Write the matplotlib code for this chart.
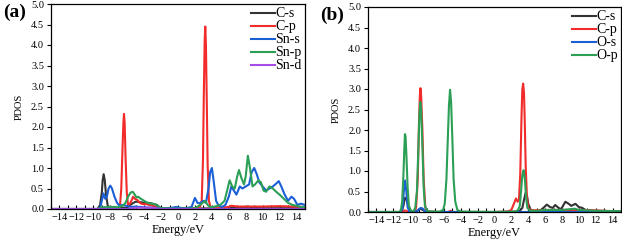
import matplotlib
matplotlib.use("Agg")
import matplotlib.pyplot as plt
from matplotlib.ticker import MultipleLocator, FormatStrFormatter

plt.rcParams['font.family'] = ['Liberation Serif', 'DejaVu Serif']

# ---- panel (a): C / Sn PDOS ----
cs_a_x = [-15, -9.5, -9.2, -9.0, -8.9, -8.78, -8.65, -8.5, -8.3, -8.0, -7.0, -6.0, -5.5, -5.0, -4.5, -4.0,
          -3.5, -3.0, -2.5, -2.2, -1.8, 0, 2, 5, 6, 8, 8.3, 8.6, 10, 15]
cs_a_y = [0, 0, 0.1, 0.4, 0.7, 0.85, 0.7, 0.35, 0.08, 0.02, 0.02, 0.03, 0.12, 0.18, 0.17, 0.15,
          0.15, 0.13, 0.1, 0.04, 0.01, 0.02, 0.01, 0.02, 0.03, 0.03, 0.06, 0.03, 0.02, 0.02]

cp_a_x = [-15, -9, -7.0, -6.85, -6.7, -6.55, -6.45, -6.38, -6.3, -6.2, -6.05, -5.9, -5.7, -5.5, -5.3, -5.1,
          -4.8, -4.5, -4.2, -3.8, -3.4, -3.0, -2.5, -2.0, 0, 2.0, 2.6, 2.8, 2.95, 3.05, 3.15, 3.22, 3.3, 3.4,
          3.5, 3.65, 3.85, 4.2, 5, 6, 6.3, 7, 10, 12, 15]
cp_a_y = [0, 0, 0.01, 0.08, 0.5, 1.5, 2.1, 2.32, 2.1, 1.3, 0.4, 0.1, 0.12, 0.2, 0.3, 0.25,
          0.22, 0.15, 0.12, 0.12, 0.1, 0.08, 0.05, 0.02, 0.01, 0.02, 0.05, 0.2, 1.2, 2.8, 4.1, 4.45, 4.0, 2.6,
          1.1, 0.2, 0.04, 0.02, 0.03, 0.05, 0.08, 0.06, 0.06, 0.07, 0.05]

sns_a_x = [-15, -9.5, -9.2, -9.0, -8.8, -8.6, -8.4, -8.2, -8.0, -7.8, -7.5, -7.2, -6.9, -6.5, -6.0, -5.5,
           -5.0, -4.5, -4.0, -3.0, -2.0, -1.0, -0.2, 0.5, 1.0, 1.6, 2.0, 2.3, 2.6, 3.0, 3.3, 3.6, 3.8, 4.0,
           4.2, 4.5, 4.8, 5.2, 5.6, 6.0, 6.3, 6.6, 6.9, 7.3, 7.6, 8.0, 8.4, 8.7, 9.0, 9.3, 9.6, 10.0, 10.4,
           10.8, 11.2, 11.6, 11.9, 12.2, 12.6, 13.0, 13.4, 13.7, 14.1, 14.5, 15]
sns_a_y = [0, 0, 0.03, 0.2, 0.38, 0.25, 0.3, 0.5, 0.57, 0.5, 0.3, 0.15, 0.08, 0.1, 0.07, 0.05,
           0.06, 0.05, 0.04, 0.03, 0.02, 0.02, 0.05, 0.02, 0.02, 0.05, 0.27, 0.15, 0.14, 0.2, 0.15, 0.5, 0.9, 1.0,
           0.7, 0.2, 0.08, 0.05, 0.1, 0.3, 0.55, 0.45, 0.35, 0.55, 0.5, 0.55, 0.6, 0.9, 1.0, 0.85, 0.65, 0.55, 0.45,
           0.5, 0.55, 0.62, 0.68, 0.55, 0.35, 0.2, 0.3, 0.25, 0.1, 0.13, 0.1]

snp_a_x = [-15, -9.5, -9, -8, -7, -6.5, -6.2, -5.9, -5.6, -5.35, -5.1, -4.9, -4.7, -4.4, -4.0, -3.6,
           -3.2, -2.8, -2.4, -2.0, -1, 0, 1, 2, 2.5, 2.9, 3.2, 3.5, 3.8, 4.2, 5.0, 5.5, 5.8, 6.1, 6.4, 6.7,
           7.0, 7.2, 7.5, 7.8, 8.0, 8.25, 8.5, 8.8, 9.1, 9.5, 9.8, 10.1, 10.4, 10.8, 11.2, 11.6, 12.0, 12.5,
           13.0, 13.5, 14.0, 14.5, 15]
snp_a_y = [0, 0, 0.04, 0.05, 0.05, 0.08, 0.15, 0.3, 0.4, 0.42, 0.35, 0.28, 0.3, 0.25, 0.2, 0.15,
           0.13, 0.12, 0.08, 0.02, 0.01, 0.01, 0.01, 0.02, 0.08, 0.15, 0.2, 0.1, 0.05, 0.05, 0.1, 0.2, 0.45, 0.7,
           0.55, 0.5, 0.8, 0.95, 0.75, 0.6, 0.8, 1.3, 1.0, 0.55, 0.6, 0.7, 0.65, 0.45, 0.42, 0.55, 0.5, 0.42,
           0.35, 0.25, 0.15, 0.1, 0.08, 0.05, 0.05]

snd_a_x = [-15, -6, -5, -3, -2, 15]
snd_a_y = [0, 0, 0.03, 0.03, 0, 0]

# ---- panel (b): C / O PDOS ----
cs_b_x = [-15, -11.2, -11.0, -10.8, -10.65, -10.5, -10.3, -10.1, -9.5, -9.1, -8.8, -8.5, -8.2, -7, 0,
          2.5, 3.0, 3.3, 3.5, 3.7, 3.85, 4.0, 4.3, 4.8, 5.3, 5.8, 6.2, 6.6, 6.9, 7.2, 7.6, 7.9, 8.4, 8.8,
          9.1, 9.6, 10.0, 10.4, 10.8, 11.5, 12, 15]
cs_b_y = [0, 0, 0.02, 0.15, 0.33, 0.35, 0.2, 0.03, 0.0, 0.04, 0.08, 0.05, 0.01, 0, 0,
          0.01, 0.03, 0.1, 0.3, 0.47, 0.4, 0.2, 0.05, 0.02, 0.02, 0.1, 0.18, 0.12, 0.1, 0.17, 0.1, 0.07, 0.25, 0.2,
          0.15, 0.2, 0.12, 0.1, 0.05, 0.03, 0.02, 0.02]

cp_b_x = [-15, -11, -10.6, -10.2, -9.5, -9.3, -9.1, -8.95, -8.85, -8.78, -8.7, -8.55, -8.4, -8.2, -8.0, -7,
          -5.5, -5.2, -5, 0, 1.5, 2.0, 2.3, 2.55, 2.75, 2.9, 3.05, 3.2, 3.3, 3.4, 3.5, 3.6, 3.7, 3.85, 4.0,
          4.3, 6, 8, 10, 12, 13, 15]
cp_b_y = [0, 0, 0.04, 0.0, 0.01, 0.1, 0.8, 2.2, 2.85, 3.02, 2.85, 2.0, 0.8, 0.1, 0.02, 0.0,
          0.0, 0.03, 0.0, 0.0, 0.01, 0.05, 0.2, 0.33, 0.25, 0.3, 0.9, 2.3, 3.0, 3.13, 2.9, 2.1, 1.1, 0.35, 0.1,
          0.04, 0.05, 0.05, 0.05, 0.04, 0.03, 0.0]

os_b_x = [-15, -11.1, -10.9, -10.75, -10.6, -10.45, -10.3, -10.1, -9.5, -9.1, -8.9, -8.7, -8.5, -8.3, -8.0, 15]
os_b_y = [0, 0, 0.1, 0.5, 0.77, 0.5, 0.12, 0.01, 0, 0.03, 0.08, 0.1, 0.08, 0.03, 0, 0]

op_b_x = [-15, -11.3, -11.1, -10.95, -10.8, -10.7, -10.62, -10.55, -10.45, -10.3, -10.15, -9.9, -9.6, -9.4,
          -9.2, -9.05, -8.9, -8.8, -8.7, -8.55, -8.4, -8.25, -8.0, -7.5, -6.5, -6.1, -5.9, -5.7, -5.55, -5.4,
          -5.27, -5.15, -5.0, -4.85, -4.65, -4.4, -4.0, 0, 2.5, 2.8, 3.0, 3.15, 3.3, 3.45, 3.6, 3.75, 3.9, 4.2,
          5, 6, 8, 9.5, 10, 12, 15]
op_b_y = [0, 0, 0.05, 0.25, 0.9, 1.5, 1.9, 1.85, 1.4, 0.6, 0.15, 0.03, 0.02, 0.1,
          0.5, 1.4, 2.4, 2.68, 2.5, 1.6, 0.6, 0.15, 0.03, 0.01, 0.01, 0.05, 0.2, 0.8, 1.7, 2.6,
          2.98, 2.7, 1.8, 0.8, 0.25, 0.05, 0.01, 0, 0.01, 0.05, 0.15, 0.5, 0.9, 1.02, 0.8, 0.35, 0.1, 0.03,
          0.03, 0.05, 0.05, 0.08, 0.05, 0.03, 0.02]

c_black = '#333333'
c_red = '#F22B2B'
c_blue = '#1A5FD6'
c_green = '#2A9F55'
c_purple = '#A64BE6'

fig = plt.figure(figsize=(6.22, 2.4), dpi=100)
ax1 = fig.add_axes([51 / 622, 31 / 240, 254 / 622, 205 / 240])
ax2 = fig.add_axes([368 / 622, 28 / 240, 253 / 622, 205 / 240])

lw = 1.5
ax1.plot(cs_a_x, cs_a_y, color=c_black, lw=lw, label='C-s')
ax1.plot(cp_a_x, cp_a_y, color=c_red, lw=lw, label='C-p')
ax1.plot(sns_a_x, sns_a_y, color=c_blue, lw=lw, label='Sn-s')
ax1.plot(snp_a_x, snp_a_y, color=c_green, lw=lw, label='Sn-p')
ax1.plot(snd_a_x, snd_a_y, color=c_purple, lw=lw, label='Sn-d')

ax2.plot(cs_b_x, cs_b_y, color=c_black, lw=lw, label='C-s')
ax2.plot(cp_b_x, cp_b_y, color=c_red, lw=lw, label='C-p')
ax2.plot(os_b_x, os_b_y, color=c_blue, lw=lw, label='O-s')
ax2.plot(op_b_x, op_b_y, color=c_green, lw=lw, label='O-p')

for ax, tag in [(ax1, '(a)'), (ax2, '(b)')]:
    ax.set_xlim(-15, 15)
    ax.set_ylim(0, 5)
    ax.xaxis.set_major_locator(MultipleLocator(2))
    ax.xaxis.set_minor_locator(MultipleLocator(1))
    ax.yaxis.set_major_locator(MultipleLocator(0.5))
    ax.yaxis.set_major_formatter(FormatStrFormatter('%.1f'))
    ax.tick_params(axis='x', which='both', direction='in', length=3, width=0.8, labelsize=7.5, pad=3)
    ax.tick_params(axis='y', direction='out', length=3, width=0.8, labelsize=7.5, pad=2)
    for sp in ax.spines.values():
        sp.set_linewidth(0.9)
    ax.set_xlabel('Energy/eV', fontsize=8.8, labelpad=1)
    ax.set_ylabel('PDOS', fontsize=7.5, labelpad=5)
    ax.legend(loc='upper right', frameon=False, fontsize=10, handlelength=1.75, handletextpad=0,
              labelspacing=0.0, borderaxespad=0.25, borderpad=0)
    ax.text(-0.19, 1.0, tag, transform=ax.transAxes, fontsize=14, fontweight='bold',
            ha='left', va='top')

plt.savefig('out.png', dpi=100)
plt.close()
